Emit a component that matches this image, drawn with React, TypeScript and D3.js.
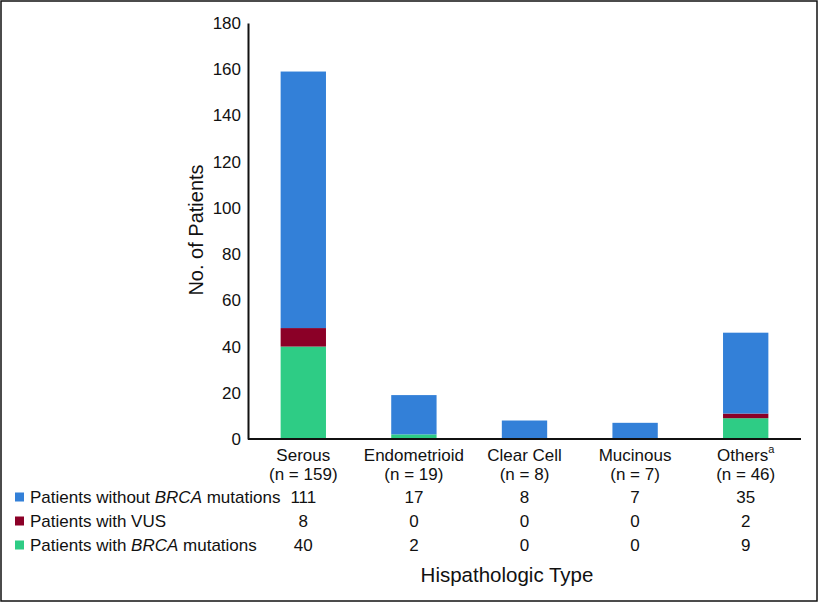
import React, { useEffect, useRef } from 'react';
import * as d3 from 'd3';

const categories = ['Serous', 'Endometrioid', 'Clear Cell', 'Mucinous', 'Others'];
const categoryCounts = ['(n = 159)', '(n = 19)', '(n = 8)', '(n = 7)', '(n = 46)'];
const withBrca = [40, 2, 0, 0, 9];
const withVus = [8, 0, 0, 0, 2];
const withoutBrca = [111, 17, 8, 7, 35];
const yTicks = [0, 20, 40, 60, 80, 100, 120, 140, 160, 180];

const seriesKeys = ['brca', 'vus', 'none'];
const seriesColors = { brca: '#2ecc85', vus: '#8b0027', none: '#3380d8' };

const W = 819;
const H = 603;
const FONT = '"Liberation Sans", Arial, sans-serif';

export default function App() {
  const svgRef = useRef<SVGSVGElement>(null);

  useEffect(() => {
    const svg = d3.select(svgRef.current);
    svg.selectAll('*').remove();

    const margin = { top: 23, left: 248, right: 18, bottom: 164 };
    const x = d3.scaleBand<string>()
      .domain(categories)
      .range([margin.left, W - margin.right])
      .paddingInner(0.59)
      .paddingOuter(0.295);
    const y = d3.scaleLinear().domain([0, 180]).range([H - margin.bottom, margin.top]);

    // outer frame
    svg.append('rect')
      .attr('x', 1).attr('y', 1).attr('width', W - 3).attr('height', H - 3)
      .attr('fill', 'white').attr('stroke', '#111').attr('stroke-width', 1.5);

    const rows = categories.map((c, i) => ({ cat: c, brca: withBrca[i], vus: withVus[i], none: withoutBrca[i] }));
    const stacked = d3.stack<any>().keys(seriesKeys)(rows);

    svg.append('g').selectAll('g')
      .data(stacked)
      .join('g')
      .attr('fill', d => seriesColors[d.key as keyof typeof seriesColors])
      .selectAll('rect')
      .data(d => d)
      .join('rect')
      .attr('x', d => x(d.data.cat)!)
      .attr('width', x.bandwidth())
      .attr('y', d => y(d[1]))
      .attr('height', d => y(d[0]) - y(d[1]));

    // y axis
    const yAxis = svg.append('g')
      .attr('transform', `translate(${margin.left},0)`)
      .call(d3.axisLeft(y).tickValues(yTicks).tickSize(0).tickPadding(7));
    yAxis.select('.domain').attr('stroke', '#111').attr('stroke-width', 2);
    yAxis.selectAll('.tick text').attr('fill', '#111').attr('font-size', 17).attr('font-family', FONT);

    // x axis line
    svg.append('line')
      .attr('x1', margin.left).attr('x2', W - margin.right)
      .attr('y1', y(0)).attr('y2', y(0))
      .attr('stroke', '#111').attr('stroke-width', 2);

    const text = (tx: number, ty: number, s: string, size = 17, anchor = 'middle') =>
      svg.append('text')
        .attr('x', tx).attr('y', ty)
        .attr('text-anchor', anchor)
        .attr('dominant-baseline', 'central')
        .attr('font-family', FONT)
        .attr('font-size', size)
        .attr('fill', '#111')
        .text(s);

    // category labels
    categories.forEach((c, i) => {
      const cx = x(c)! + x.bandwidth() / 2;
      const t = text(cx, 455, c);
      if (c === 'Others') {
        t.append('tspan').attr('font-size', 11).attr('dy', -6).text('a');
      }
      text(cx, 474, categoryCounts[i]);
    });

    // data table
    const tableRows = [
      { key: 'none', pre: 'Patients without ', it: 'BRCA', post: ' mutations', vals: withoutBrca, y: 497 },
      { key: 'vus', pre: 'Patients with VUS', it: '', post: '', vals: withVus, y: 521 },
      { key: 'brca', pre: 'Patients with ', it: 'BRCA', post: ' mutations', vals: withBrca, y: 545 },
    ];
    tableRows.forEach(r => {
      svg.append('rect')
        .attr('x', 15).attr('y', r.y - 4.5).attr('width', 9).attr('height', 9)
        .attr('fill', seriesColors[r.key as keyof typeof seriesColors]);
      const t = text(30, r.y, '', 17, 'start');
      t.append('tspan').text(r.pre);
      if (r.it) t.append('tspan').attr('font-style', 'italic').text(r.it);
      if (r.post) t.append('tspan').text(r.post);
      r.vals.forEach((v, i) => {
        text(x(categories[i])! + x.bandwidth() / 2, r.y, String(v));
      });
    });

    // axis titles
    text(507, 574, 'Hispathologic Type', 20.5);
    text(0, 0, 'No. of Patients', 20)
      .attr('transform', `translate(196,230) rotate(-90)`);
  }, []);

  return (
    <svg ref={svgRef} width={W} height={H} style={{ display: 'block', position: 'absolute', left: 0, top: 0 }} />
  );
}
